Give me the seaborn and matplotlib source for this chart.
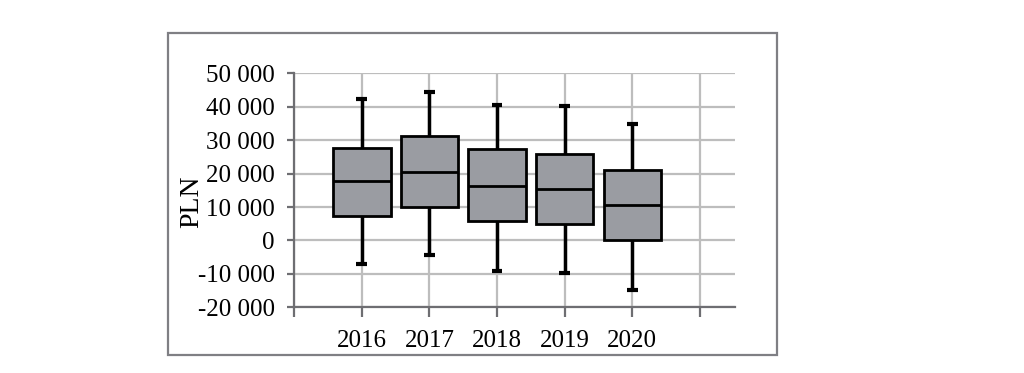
import matplotlib
matplotlib.use("Agg")
import matplotlib.pyplot as plt
from matplotlib.patches import Rectangle
import seaborn as sns
import pandas as pd

years = ["2016", "2017", "2018", "2019", "2020"]
whisker_low = [-6900, -4500, -9000, -9600, -14800]
q1 = [7200, 10000, 5800, 5000, 0]
median = [17800, 20500, 16400, 15500, 10500]
q3 = [27800, 31200, 27500, 26000, 21000]
whisker_high = [42300, 44300, 40500, 40200, 34700]

y_ticks = [-20000, -10000, 0, 10000, 20000, 30000, 40000, 50000]
y_tick_labels = ["-20 000", "-10 000", "0", "10 000", "20 000", "30 000", "40 000", "50 000"]
x_tick_labels = [""] + years + [""]
y_label = "PLN"

rows = []
for i, yr in enumerate(years):
    for v in (whisker_low[i], q1[i], median[i], q3[i], whisker_high[i]):
        rows.append({"year": yr, "value": v})
df = pd.DataFrame(rows)

sns.set_theme(style="white")
plt.rcParams["font.family"] = ["Liberation Serif", "DejaVu Serif"]

fig = plt.figure(figsize=(10.24, 3.73), dpi=100)
ax = fig.add_axes([0.2874, 0.1761, 0.4304, 0.6274])

sns.boxplot(data=df, x="year", y="value", order=years, ax=ax,
            color="#9a9ca2", saturation=1, width=0.85, whis=(0, 100),
            linecolor="black", linewidth=2.0, showfliers=False,
            capwidths=0.16,
            whiskerprops={"linewidth": 2.5},
            capprops={"linewidth": 3.0, "solid_capstyle": "butt"})

ax.set_xlim(-1, 5.52)
ax.set_ylim(-20000, 50000)
ax.set_xticks(range(-1, 6))
ax.set_xticklabels(x_tick_labels)
ax.set_yticks(y_ticks)
ax.set_yticklabels(y_tick_labels)
ax.set_xlabel("")
ax.set_ylabel(y_label, fontsize=20, color="black")
ax.yaxis.set_label_coords(-0.205, 0.45)

ax.set_axisbelow(True)
ax.grid(True, color="#bdbdbd", linewidth=1.6)
for side in ("top", "right"):
    ax.spines[side].set_visible(False)
for side in ("left", "bottom"):
    ax.spines[side].set_color("#6e6e72")
    ax.spines[side].set_linewidth(1.6)
ax.tick_params(axis="y", which="both", left=True, length=5, width=1.6, color="#6e6e72",
               labelsize=18, labelcolor="black", pad=9)
ax.tick_params(axis="x", which="both", bottom=True, length=7, width=1.6, color="#6e6e72",
               labelsize=18, labelcolor="black", pad=9)

fig.patches.append(Rectangle((0.1644, 0.0483), 0.5941, 0.8625, transform=fig.transFigure,
                             fill=False, edgecolor="#7f7f84", linewidth=1.6))

fig.savefig("out.png", dpi=100, facecolor="white")
